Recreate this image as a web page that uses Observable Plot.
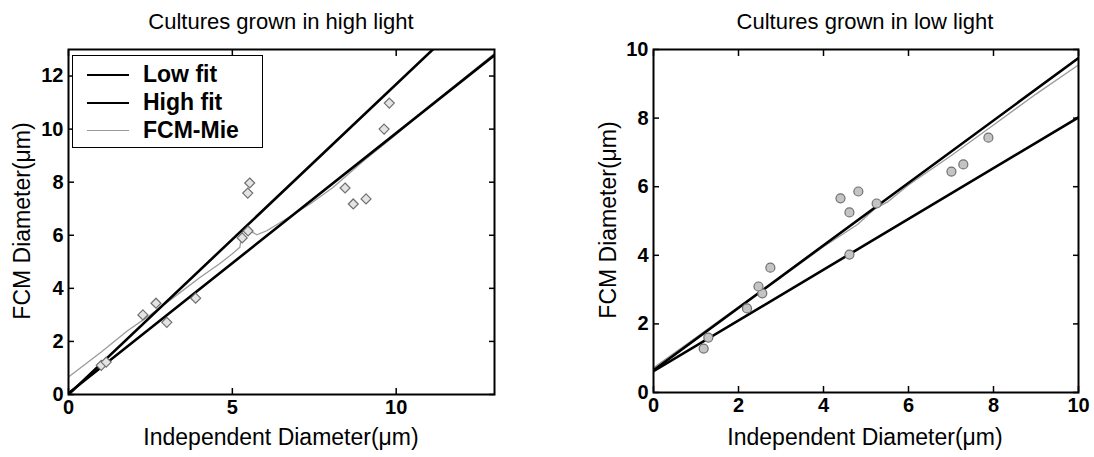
<!DOCTYPE html>
<html><head><meta charset="utf-8">
<script src="https://cdn.jsdelivr.net/npm/d3@7"></script>
<script src="https://cdn.jsdelivr.net/npm/@observablehq/plot@0.6"></script>
<style>
body{margin:0;background:#fff;}
#wrap{position:relative;width:1094px;height:457px;overflow:hidden;font-family:"Liberation Sans",Arial,sans-serif;color:#000;}
.svgbox{position:absolute;top:0;}
.t{position:absolute;white-space:nowrap;transform:translate(-50%,-50%);font-size:23px;}
.ttl{font-size:22px;}
.ylab{transform:translate(-50%,-50%) rotate(-90deg);}
#legend{position:absolute;left:72px;top:55px;width:189px;height:91px;border:1px solid #000;background:#fff;font-weight:bold;font-size:23px;}
.row{position:absolute;left:0;height:28px;line-height:28px;}
.sw{position:absolute;left:14px;top:14px;width:42px;height:0;}
.lbl{position:absolute;left:70px;top:0;white-space:nowrap;}
</style></head><body><div id="wrap"></div>
<script>
// ---- High light panel data ----
const hiPtX = [1.0, 1.15, 2.27, 2.67, 3.0, 3.88, 5.3, 5.48, 5.47, 5.53, 8.44, 8.69, 9.08, 9.63, 9.79];
const hiPtY = [1.1, 1.22, 3.0, 3.44, 2.72, 3.63, 5.9, 6.16, 7.59, 7.97, 7.78, 7.18, 7.37, 10.0, 10.98];
const hiLowFitX = [0, 13];
const hiLowFitY = [0, 15.2];
const hiHighFitX = [0, 13];
const hiHighFitY = [0.05, 12.79];
const hiMieX = [0, 1, 1.8, 2.5, 3.2, 4.0, 4.6, 5.0, 5.23, 5.3, 5.53, 5.75, 6.05, 6.54, 7.37, 8.07, 9.0, 10.0, 11.0, 12.0, 13.0];
const hiMieY = [0.66, 1.6, 2.4, 3.0, 3.65, 4.4, 4.92, 5.3, 5.55, 6.15, 6.17, 6.02, 6.17, 6.54, 7.18, 7.8, 8.8, 9.8, 10.85, 11.85, 12.85];
const hiXTicks = [0, 5, 10];
const hiYTicks = [0, 2, 4, 6, 8, 10, 12];

// ---- Low light panel data ----
const loPtX = [1.18, 1.29, 2.2, 2.56, 2.47, 2.75, 4.4, 4.82, 4.61, 5.25, 4.61, 7.01, 7.29, 7.88];
const loPtY = [1.28, 1.6, 2.45, 2.89, 3.09, 3.64, 5.66, 5.86, 5.25, 5.51, 4.02, 6.44, 6.65, 7.43];
const loLowFitX = [0, 10];
const loLowFitY = [0.65, 9.75];
const loHighFitX = [0, 10];
const loHighFitY = [0.62, 8.02];
const loMieX = [0, 1, 2, 3, 4, 4.8, 5.2, 5.5, 6, 7, 8, 9, 10];
const loMieY = [0.72, 1.6, 2.5, 3.35, 4.25, 4.9, 5.35, 5.55, 6.05, 6.9, 7.8, 8.7, 9.55];
const loXTicks = [0, 2, 4, 6, 8, 10];
const loYTicks = [0, 2, 4, 6, 8, 10];

const titles = ["Cultures grown in high light", "Cultures grown in low light"];
const xTitle = "Independent Diameter(\u03bcm)";
const yTitle = "FCM Diameter(\u03bcm)";
const legendNames = ["Low fit", "High fit", "FCM-Mie"];

const zip = (xs, ys) => xs.map((x, i) => ({x, y: ys[i]}));

function panel(o) {
  const tk = 6;
  return Plot.plot({
    width: o.width, height: 457,
    marginLeft: o.ml, marginRight: o.mr, marginTop: o.mt, marginBottom: o.mb,
    style: {fontFamily: '"Liberation Sans", Arial, sans-serif', fontSize: "20px", fontWeight: "bold", color: "#000", background: "transparent", overflow: "visible"},
    x: {domain: o.xDomain, label: null},
    y: {domain: o.yDomain, label: null},
    marks: [
      Plot.line(zip(o.mieX, o.mieY), {x: "x", y: "y", stroke: "#9a9a9a", strokeWidth: 1.3, clip: true}),
      Plot.line(zip(o.fitAX, o.fitAY), {x: "x", y: "y", stroke: "#000", strokeWidth: 2.6, clip: true}),
      Plot.line(zip(o.fitBX, o.fitBY), {x: "x", y: "y", stroke: "#000", strokeWidth: 2.6, clip: true}),
      Plot.dot(zip(o.ptX, o.ptY), {x: "x", y: "y", symbol: o.symbol, r: 4.5, stroke: "#707070", strokeWidth: 1.2, fill: o.fill}),
      Plot.axisX({anchor: "bottom", ticks: o.xTicks, tickSize: tk, dy: -tk, fill: "none", label: null, strokeWidth: 1.5}),
      Plot.axisX({anchor: "top", ticks: o.xTicks, tickSize: tk, dy: tk, fill: "none", label: null, strokeWidth: 1.5}),
      Plot.axisY({anchor: "left", ticks: o.yTicks, tickSize: tk, dx: tk, fill: "none", label: null, strokeWidth: 1.5}),
      Plot.axisY({anchor: "right", ticks: o.yTicks, tickSize: tk, dx: -tk, fill: "none", label: null, strokeWidth: 1.5}),
      Plot.axisX({anchor: "bottom", ticks: o.xTicks, tickSize: 0, tickPadding: 5, label: null, tickFormat: d => String(d)}),
      Plot.axisY({anchor: "left", ticks: o.yTicks, tickSize: 0, tickPadding: 5, label: null, tickFormat: d => String(d)}),
      Plot.frame({stroke: "#000", strokeWidth: 2})
    ]
  });
}

const wrap = document.getElementById("wrap");
function place(node, left) {
  const d = document.createElement("div");
  d.className = "svgbox"; d.style.left = left + "px";
  d.appendChild(node); wrap.appendChild(d);
}

place(panel({width: 547, ml: 68, mr: 53, mt: 49, mb: 63,
  xDomain: [0, 13], yDomain: [0, 13], xTicks: hiXTicks, yTicks: hiYTicks,
  ptX: hiPtX, ptY: hiPtY, fitAX: hiLowFitX, fitAY: hiLowFitY, fitBX: hiHighFitX, fitBY: hiHighFitY,
  mieX: hiMieX, mieY: hiMieY, symbol: "diamond2", fill: "#e4e4e4"}), 0);
place(panel({width: 547, ml: 106, mr: 16, mt: 49, mb: 65,
  xDomain: [0, 10], yDomain: [0, 10], xTicks: loXTicks, yTicks: loYTicks,
  ptX: loPtX, ptY: loPtY, fitAX: loLowFitX, fitAY: loLowFitY, fitBX: loHighFitX, fitBY: loHighFitY,
  mieX: loMieX, mieY: loMieY, symbol: "circle", fill: "#c4c4c4"}), 547);

function txt(s, x, y, cls) {
  const d = document.createElement("div");
  d.className = "t" + (cls ? " " + cls : "");
  d.style.left = x + "px"; d.style.top = y + "px"; d.textContent = s;
  wrap.appendChild(d);
}
txt(titles[0], 281, 22, "ttl");
txt(titles[1], 865, 22, "ttl");
txt(xTitle, 281, 437);
txt(xTitle, 865, 437);
txt(yTitle, 22, 221, "ylab");
txt(yTitle, 608, 220, "ylab");

// legend
const lg = document.createElement("div"); lg.id = "legend";
const swStyles = ["border-top:2.6px solid #000", "border-top:2.6px solid #000", "border-top:1.3px solid #9a9a9a"];
legendNames.forEach((n, i) => {
  const r = document.createElement("div"); r.className = "row";
  r.style.top = (4 + i * 28) + "px"; r.style.width = "189px";
  r.innerHTML = `<div class="sw" style="${swStyles[i]}"></div><div class="lbl">${n}</div>`;
  lg.appendChild(r);
});
wrap.appendChild(lg);
</script></body></html>
